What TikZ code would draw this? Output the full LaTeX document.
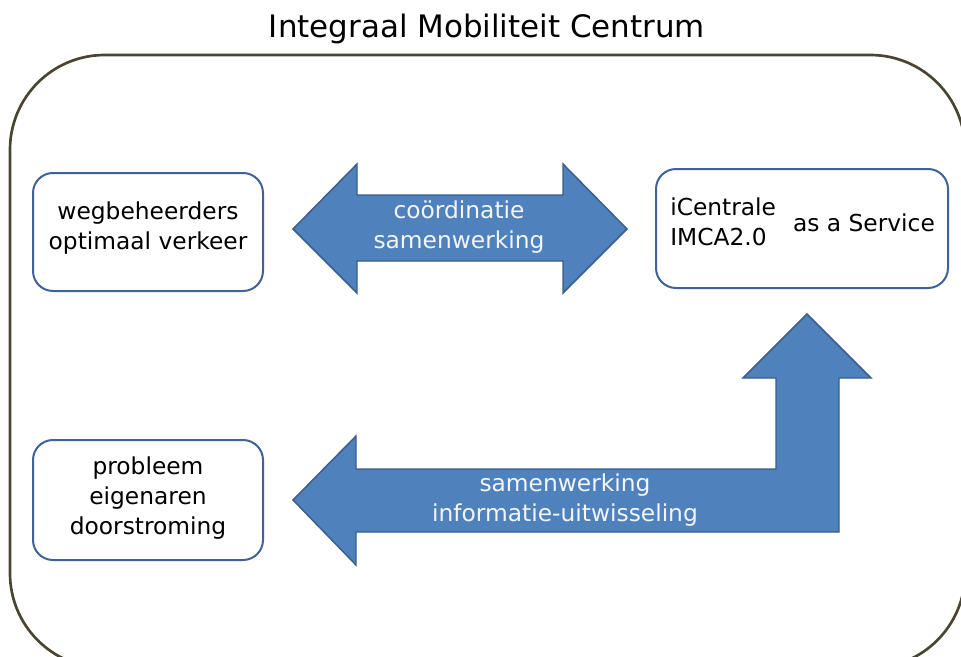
\documentclass[tikz,border=0pt]{standalone}
\usepackage{fontspec}
\setmainfont{DejaVu Sans}
\definecolor{outerc}{HTML}{4A4530}
\definecolor{boxc}{HTML}{3F6398}
\definecolor{arrfill}{HTML}{4F81BD}
\definecolor{arrline}{HTML}{3A5F8B}
\definecolor{arrtext}{HTML}{F2F5FA}
\begin{document}
\begin{tikzpicture}[x=0.75pt,y=-0.75pt,
  outerbox/.style={draw=outerc,line width=2pt,fill=white,rounded corners=71pt},
  infobox/.style={draw=boxc,line width=1.5pt,fill=white,rounded corners=15pt,rectangle,inner sep=0pt},
  blockarrow/.style={fill=arrfill,draw=arrline,line width=1.1pt,line join=miter},
  boxtext/.style={font=\fontsize{17.5}{22.5}\selectfont,text=black,align=center,inner sep=0pt},
  arrowtext/.style={font=\fontsize{17.5}{22.5}\selectfont,text=arrtext,align=center,inner sep=0pt}]
\useasboundingbox (0,0) rectangle (961,657);
\clip (0,0) rectangle (961,657);
\node[font=\fontsize{23.2}{28}\selectfont,inner sep=0pt] (title) at (487,29) {Integraal Mobiliteit Centrum};
\draw[outerbox] (10,55) rectangle (965,668);
% boxes
\node[infobox,minimum width=172.5pt,minimum height=88.5pt] (weg) at (148,232) {};
\node[boxtext] (wegtxt) at (148,228) {wegbeheerders\\optimaal verkeer};
\node[infobox,minimum width=219pt,minimum height=89.25pt] (icen) at (802,228.5) {};
\node[boxtext,align=left,anchor=west] (icentxt) at (670,221.5) {iCentrale\\IMCA2.0};
\node[boxtext] (servtxt) at (864,223) {as a Service};
\node[infobox,minimum width=172.5pt,minimum height=90pt] (prob) at (148,500) {};
\node[boxtext] (probtxt) at (148,498) {probleem\\eigenaren\\doorstroming};
% double arrow
\draw[blockarrow] (293,229) -- (357,164) -- (357,195) -- (563,195) -- (563,164) -- (627,229)
  -- (563,293) -- (563,261) -- (357,261) -- (357,293) -- cycle;
\node[arrowtext] (coord) at (459,227) {coördinatie\\samenwerking};
% bent arrow
\draw[blockarrow] (293,500) -- (356,436) -- (356,469) -- (776,469) -- (776,378) -- (743,378)
  -- (807,314) -- (871,378) -- (839,378) -- (839,532) -- (356,532) -- (356,565) -- cycle;
\node[arrowtext] (info) at (565,500) {samenwerking\\informatie-uitwisseling};
\end{tikzpicture}
\end{document}
